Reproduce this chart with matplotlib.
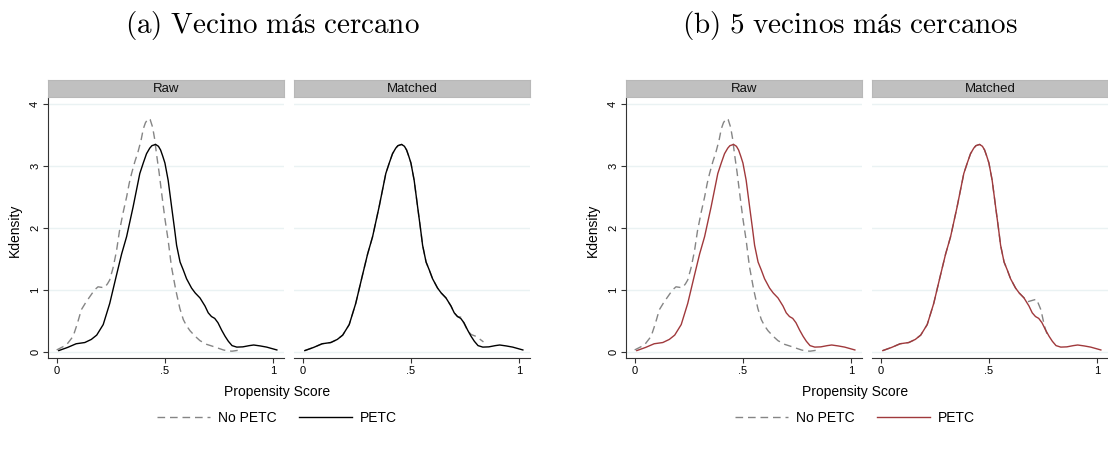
import matplotlib
matplotlib.use("Agg")
import matplotlib.pyplot as plt
from matplotlib.lines import Line2D

plt.rcParams["font.family"] = ["Liberation Sans", "DejaVu Sans"]
plt.rcParams["mathtext.fontset"] = "cm"

W, H = 1108, 458

# kernel density of the propensity score
petc_x = [0.01, 0.05, 0.09, 0.13, 0.16, 0.185, 0.215, 0.245, 0.275, 0.30,
          0.323, 0.353, 0.384, 0.40, 0.415, 0.43, 0.44, 0.457, 0.47, 0.48,
          0.49, 0.50, 0.515, 0.531, 0.545, 0.554, 0.57, 0.585, 0.60, 0.623,
          0.64, 0.662, 0.685, 0.70, 0.715, 0.73, 0.745, 0.762, 0.778, 0.793,
          0.81, 0.832, 0.86, 0.89, 0.91, 0.94, 0.97, 1.017]
petc_y = [0.02, 0.07, 0.13, 0.15, 0.20, 0.27, 0.44, 0.78, 1.22, 1.58,
          1.86, 2.34, 2.88, 3.05, 3.20, 3.29, 3.33, 3.35, 3.32, 3.26,
          3.16, 3.05, 2.77, 2.34, 1.97, 1.72, 1.45, 1.32, 1.18, 1.03,
          0.95, 0.87, 0.74, 0.63, 0.57, 0.54, 0.47, 0.35, 0.25, 0.17,
          0.10, 0.076, 0.08, 0.10, 0.11, 0.095, 0.076, 0.03]

nopetc_raw_x = [0.0, 0.045, 0.076, 0.095, 0.114, 0.135, 0.153, 0.175, 0.191, 0.21,
                0.222, 0.235, 0.245, 0.26, 0.276, 0.29, 0.307, 0.323, 0.335, 0.346,
                0.361, 0.375, 0.39, 0.40, 0.41, 0.423, 0.432, 0.443, 0.452, 0.461,
                0.473, 0.485, 0.50, 0.515, 0.53, 0.55, 0.569, 0.585, 0.60, 0.616,
                0.64, 0.662, 0.693, 0.72, 0.745, 0.77, 0.79, 0.81, 0.83, 0.847]
nopetc_raw_y = [0.03, 0.11, 0.25, 0.45, 0.68, 0.80, 0.89, 1.00, 1.05, 1.04,
                1.04, 1.10, 1.16, 1.35, 1.62, 1.95, 2.25, 2.50, 2.72, 2.88,
                3.07, 3.22, 3.42, 3.60, 3.70, 3.77, 3.75, 3.63, 3.45, 3.20,
                2.90, 2.56, 2.15, 1.80, 1.38, 1.00, 0.70, 0.52, 0.42, 0.34,
                0.25, 0.18, 0.12, 0.09, 0.06, 0.03, 0.015, 0.01, 0.02, 0.03]

# matched controls sit on the treated curve except in the right tail
nn1_tail_x = [0.73, 0.745, 0.762, 0.778, 0.80, 0.82, 0.835]
nn1_tail_y = [0.56, 0.46, 0.34, 0.28, 0.25, 0.20, 0.16]
nn5_tail_x = [0.66, 0.68, 0.70, 0.72, 0.74, 0.757, 0.77]
nn5_tail_y = [0.88, 0.81, 0.83, 0.85, 0.68, 0.41, 0.27]

titles = ["(a) Vecino más cercano", "(b) 5 vecinos más cercanos"]
panel_names = ["Raw", "Matched"]
xticks = [0, 0.5, 1]
xtick_labels = ["0", ".5", "1"]
yticks = [0, 1, 2, 3, 4]


def matched_control(split, tail_x, tail_y):
    head = [(x, y) for x, y in zip(petc_x, petc_y) if x <= split]
    return [p[0] for p in head] + tail_x, [p[1] for p in head] + tail_y


fig = plt.figure(figsize=(W / 100, H / 100), dpi=100)
DASH = (0, (5.5, 3.5))
GRAY = "#858585"


def px_axes(left, top, right, bottom):
    return fig.add_axes([left / W, 1 - bottom / H, (right - left) / W, (bottom - top) / H])


def draw_group(x0, treat_color, matched_ctrl, title):
    # x0 = left edge of the Raw panel in pixels
    lefts = [x0, x0 + 246]
    for i, left in enumerate(lefts):
        ax = px_axes(left, 98, left + 236, 358)
        if i == 0:
            ax.plot(nopetc_raw_x, nopetc_raw_y, color=GRAY, lw=1.0, linestyle=DASH)
        else:
            ax.plot(matched_ctrl[0], matched_ctrl[1], color=GRAY, lw=1.0, linestyle=DASH)
        ax.plot(petc_x, petc_y, color=treat_color, lw=1.0)
        ax.set_xlim(-0.04, 1.05)
        ax.set_ylim(-0.1, 4.1)
        ax.set_yticks(yticks)
        ax.set_xticks(xticks)
        ax.set_xticklabels(xtick_labels)
        for y in yticks:
            ax.axhline(y, color="#EAF2F3", lw=1.0, zorder=0)
        for s in ["top", "right"]:
            ax.spines[s].set_visible(False)
        for s in ["bottom", "left"]:
            ax.spines[s].set_color("#333333")
            ax.spines[s].set_linewidth(0.8)
        ax.tick_params(length=3.6, width=0.8, color="#333333", labelsize=8, pad=2)
        if i == 0:
            for lab in ax.get_yticklabels():
                lab.set_rotation(90)
                lab.set_va("center")
        else:
            ax.spines["left"].set_visible(False)
            ax.tick_params(axis="y", left=False, labelleft=False)

        strip = px_axes(left, 80, left + 236, 97)
        strip.set_facecolor("#C0C0C0")
        strip.set_xticks([])
        strip.set_yticks([])
        for s in strip.spines.values():
            s.set_color("#B8B8B8")
        strip.text(0.5, 0.5, panel_names[i], ha="center", va="center", fontsize=9.5,
                   color="#111111", transform=strip.transAxes)

    cx = x0 + 229
    fig.text((x0 - 33) / W, 1 - 230 / H, "Kdensity", rotation=90,
             ha="center", va="center", fontsize=10)
    fig.text(cx / W, 1 - 392 / H, "Propensity Score", ha="center", va="center", fontsize=10)
    handles = [Line2D([], [], color=GRAY, lw=1.0, linestyle=DASH),
               Line2D([], [], color=treat_color, lw=1.0)]
    fig.legend(handles, ["No PETC", "PETC"], loc="center", ncol=2,
               bbox_to_anchor=(cx / W, 1 - 418 / H), frameon=False, fontsize=10,
               handlelength=3.8, handletextpad=0.6, columnspacing=1.6)
    fig.text((x0 + 224) / W, 1 - 25 / H, r"$\mathrm{" + title.replace(" ", r"\ ") + "}$",
             ha="center", va="center", fontsize=21)


draw_group(48, "black", matched_control(0.715, nn1_tail_x, nn1_tail_y), titles[0])
draw_group(626, "#A0393C", matched_control(0.64, nn5_tail_x, nn5_tail_y), titles[1])

fig.savefig("out.png", dpi=100)
